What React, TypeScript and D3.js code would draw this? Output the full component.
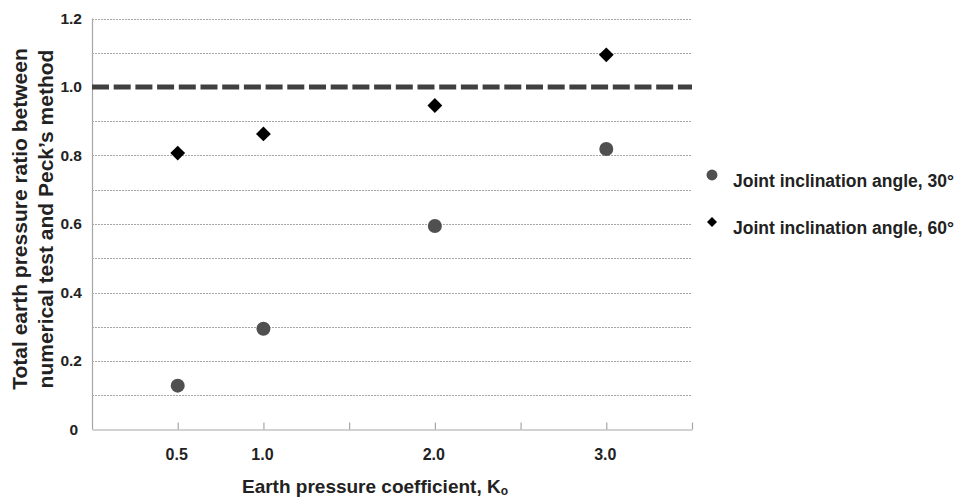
import React, { useEffect, useRef } from "react";
import * as d3 from "d3";

const kValues = [0.5, 1.0, 2.0, 3.0];
const angle30 = [0.128, 0.294, 0.594, 0.819];
const angle60 = [0.807, 0.863, 0.946, 1.094];
const xTickValues = [0.5, 1.0, 1.5, 2.0, 2.5, 3.0, 3.5];
const xLabelValues = [0.5, 1.0, 2.0, 3.0];
const xLabelTexts = ["0.5", "1.0", "2.0", "3.0"];
const yLabelValues = [0, 0.2, 0.4, 0.6, 0.8, 1.0, 1.2];
const yLabelTexts = ["0", "0.2", "0.4", "0.6", "0.8", "1.0", "1.2"];
const gridValues = [0.1, 0.2, 0.3, 0.4, 0.5, 0.6, 0.7, 0.8, 0.9, 1.1, 1.2];
const referenceValue = 1.0;
const legendLabels = ["Joint inclination angle, 30°", "Joint inclination angle, 60°"];
const yTitleLines = ["Total earth pressure ratio between", "numerical test and Peck\u2019s method"];

const W = 958;
const H = 499;
const FONT = "Liberation Sans, Arial, sans-serif";

export default function App() {
  const ref = useRef<SVGSVGElement | null>(null);

  useEffect(() => {
    const svg = d3.select(ref.current);
    svg.selectAll("*").remove();

    const x = d3.scaleLinear().domain([0, 3.5]).range([92, 692]);
    const y = d3.scaleLinear().domain([0, 1.2]).range([429.5, 18.5]);

    // gridlines
    svg
      .append("g")
      .selectAll("line")
      .data(gridValues)
      .join("line")
      .attr("x1", x(0))
      .attr("x2", x(3.5))
      .attr("y1", (d) => Math.round(y(d)) + 0.5)
      .attr("y2", (d) => Math.round(y(d)) + 0.5)
      .attr("stroke", "#a6a6a6")
      .attr("stroke-width", 1)
      .attr("stroke-dasharray", "2,1");

    // y axis line
    svg
      .append("line")
      .attr("x1", x(0) + 0.5)
      .attr("x2", x(0) + 0.5)
      .attr("y1", y(1.2))
      .attr("y2", y(0))
      .attr("stroke", "#a6a6a6")
      .attr("stroke-width", 1.2);

    // x axis
    const xAxis = d3
      .axisBottom(x)
      .tickValues(xTickValues)
      .tickSizeInner(-7)
      .tickSizeOuter(0)
      .tickFormat(() => "");
    const gx = svg.append("g").attr("transform", `translate(0,${y(0)})`).call(xAxis as any);
    gx.select(".domain").attr("stroke", "#a6a6a6").attr("stroke-width", 1.2);
    gx.selectAll(".tick line").attr("stroke", "#a6a6a6").attr("stroke-width", 1.2);

    // x labels
    svg
      .append("g")
      .selectAll("text")
      .data(xLabelValues)
      .join("text")
      .attr("x", (d) => x(d) - 1)
      .attr("y", 460)
      .attr("text-anchor", "middle")
      .attr("font-family", FONT)
      .attr("font-weight", "bold")
      .attr("font-size", 16)
      .attr("fill", "#222")
      .text((d, i) => xLabelTexts[i]);

    // y labels
    svg
      .append("g")
      .selectAll("text")
      .data(yLabelValues)
      .join("text")
      .attr("x", (d) => (d === 0 ? 78 : 82))
      .attr("y", (d) => y(d))
      .attr("dy", "0.35em")
      .attr("text-anchor", "end")
      .attr("font-family", FONT)
      .attr("font-weight", "bold")
      .attr("font-size", 15.5)
      .attr("fill", "#222")
      .text((d, i) => yLabelTexts[i]);

    // reference dashed line
    svg
      .append("line")
      .attr("x1", x(0))
      .attr("x2", x(3.5))
      .attr("y1", y(referenceValue))
      .attr("y2", y(referenceValue))
      .attr("stroke", "#404040")
      .attr("stroke-width", 5)
      .attr("stroke-dasharray", "17,4.7");

    // circles series
    svg
      .append("g")
      .selectAll("path")
      .data(kValues)
      .join("path")
      .attr("d", d3.symbol().type(d3.symbolCircle).size(Math.PI * 49) as any)
      .attr("transform", (d, i) => `translate(${x(d)},${y(angle30[i])})`)
      .attr("fill", "#505050");

    // diamonds series
    svg
      .append("g")
      .selectAll("path")
      .data(kValues)
      .join("path")
      .attr("d", d3.symbol().type(d3.symbolSquare).size(110) as any)
      .attr("transform", (d, i) => `translate(${x(d)},${y(angle60[i])}) rotate(45)`)
      .attr("fill", "#000");

    // legend
    const lg = svg.append("g");
    lg.append("path")
      .attr("d", d3.symbol().type(d3.symbolCircle).size(Math.PI * 30) as any)
      .attr("transform", "translate(712,175)")
      .attr("fill", "#505050");
    lg.append("path")
      .attr("d", d3.symbol().type(d3.symbolSquare).size(50) as any)
      .attr("transform", "translate(712,222) rotate(45)")
      .attr("fill", "#000");
    lg.selectAll("text")
      .data(legendLabels)
      .join("text")
      .attr("x", 733)
      .attr("y", (d, i) => 181 + i * 47)
      .attr("dy", "0.35em")
      .attr("font-family", FONT)
      .attr("font-weight", "bold")
      .attr("font-size", 17.5)
      .attr("fill", "#222")
      .text((d) => d);

    // x title
    const xt = svg
      .append("text")
      .attr("x", 375)
      .attr("y", 493)
      .attr("text-anchor", "middle")
      .attr("font-family", FONT)
      .attr("font-weight", "bold")
      .attr("font-size", 19)
      .attr("fill", "#222");
    xt.append("tspan").text("Earth pressure coefficient, K");
    xt.append("tspan").attr("font-size", 12).attr("dy", 2).text("o");

    // y title
    const yt = svg.append("g").attr("transform", "translate(0,219) rotate(-90)");
    yt.selectAll("text")
      .data(yTitleLines)
      .join("text")
      .attr("x", 0)
      .attr("y", (d, i) => 27 + i * 26)
      .attr("text-anchor", "middle")
      .attr("font-family", FONT)
      .attr("font-weight", "bold")
      .attr("font-size", 21)
      .attr("fill", "#222")
      .text((d) => d);
  }, []);

  return (
    <svg
      ref={ref}
      width={W}
      height={H}
      style={{ position: "absolute", left: 0, top: 0, background: "#fff" }}
    />
  );
}
